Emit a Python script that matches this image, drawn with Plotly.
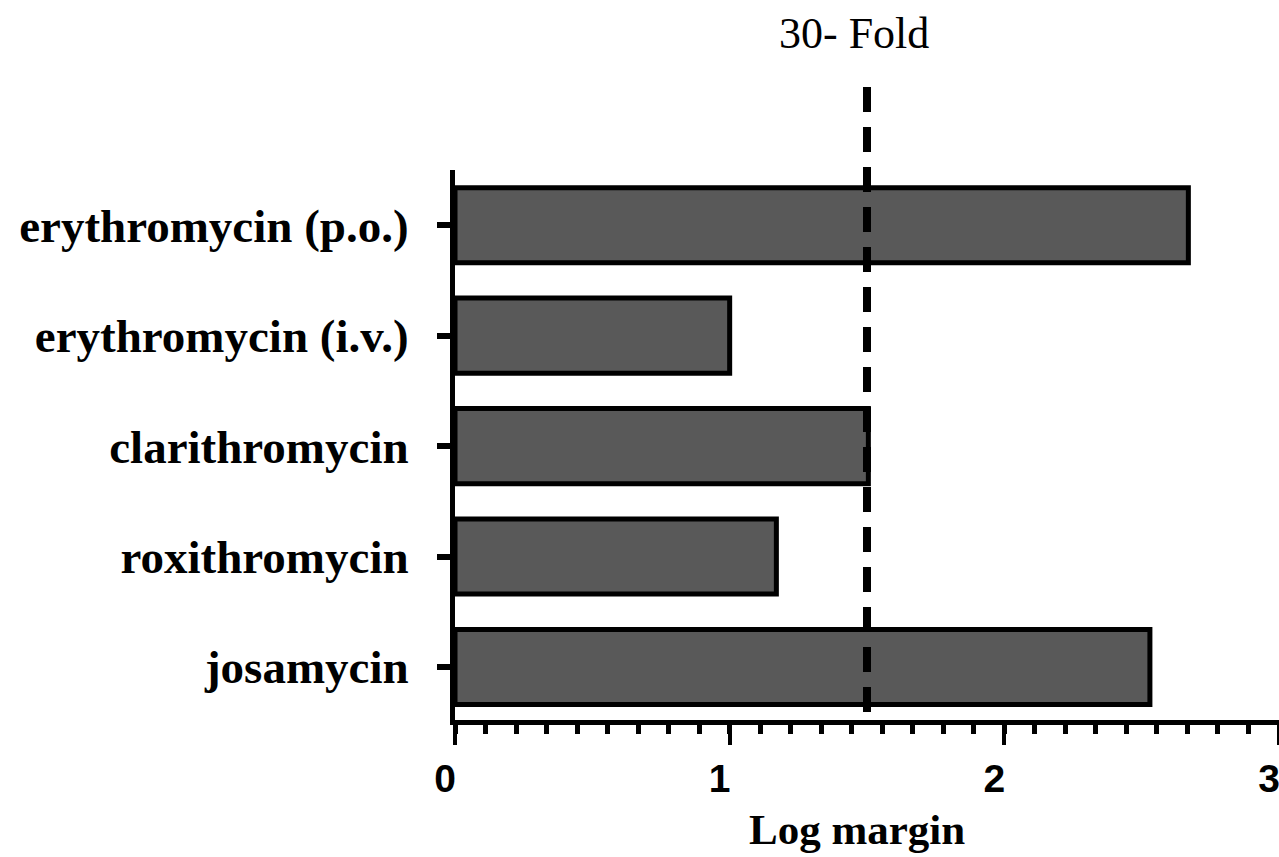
import plotly.graph_objects as go

drugs = ["josamycin", "roxithromycin", "clarithromycin", "erythromycin (i.v.)", "erythromycin (p.o.)"]
log_margin = [2.53, 1.17, 1.505, 1.00, 2.67]
threshold = 1.5
threshold_label = "30- Fold"
x_ticks = [0, 1, 2, 3]

fig = go.Figure()
fig.add_trace(go.Bar(
    y=drugs, x=log_margin, orientation="h", width=0.68,
    marker=dict(color="#595959", line=dict(color="black", width=5)),
))

fig.add_shape(type="line", xref="x", yref="paper",
              x0=threshold, x1=threshold, y0=1.151, y1=0,
              line=dict(color="black", width=8, dash="25px,15px"), layer="above")

fig.add_annotation(x=threshold, xref="x", y=1.0, yref="paper", yshift=163,
                   text=threshold_label, showarrow=False, xshift=-13,
                   font=dict(family="Liberation Serif, Times New Roman, serif", size=44, color="black"))

fig.add_annotation(x=0.488, xref="paper", y=0, yref="paper", yshift=-135,
                   text="<b>Log margin</b>", showarrow=False,
                   font=dict(family="Liberation Serif, Times New Roman, serif", size=43, color="black"))

fig.update_layout(
    width=1279, height=857,
    margin=dict(l=455, r=0, t=170, b=137),
    plot_bgcolor="white", paper_bgcolor="white",
    showlegend=False,
    bargap=0.3,
)
fig.update_xaxes(
    range=[0, 3], tickvals=x_ticks, ticktext=[str(v) for v in x_ticks],
    showgrid=False, zeroline=False,
    showline=True, linecolor="black", linewidth=5,
    ticks="outside", ticklen=20, tickwidth=4, tickcolor="black",
    minor=dict(ticks="outside", dtick=1/9, tick0=0, ticklen=9, tickwidth=5, tickcolor="black"),
    tickfont=dict(family="Liberation Sans, Arial, sans-serif", size=39, color="black", weight="bold"),
    ticklabelstandoff=0, ticklabelshift=-10, ticklabeloverflow="allow",
)
fig.update_yaxes(
    categoryorder="array", categoryarray=drugs, range=[-0.48, 4.5],
    showgrid=False, zeroline=False,
    showline=True, linecolor="black", linewidth=5,
    ticks="outside", ticklen=13, tickwidth=6, tickcolor="black",
    tickfont=dict(family="Liberation Serif, Times New Roman, serif", size=47, color="black", weight="bold"),
    ticklabelstandoff=19,
)

fig.write_html("out.html")
